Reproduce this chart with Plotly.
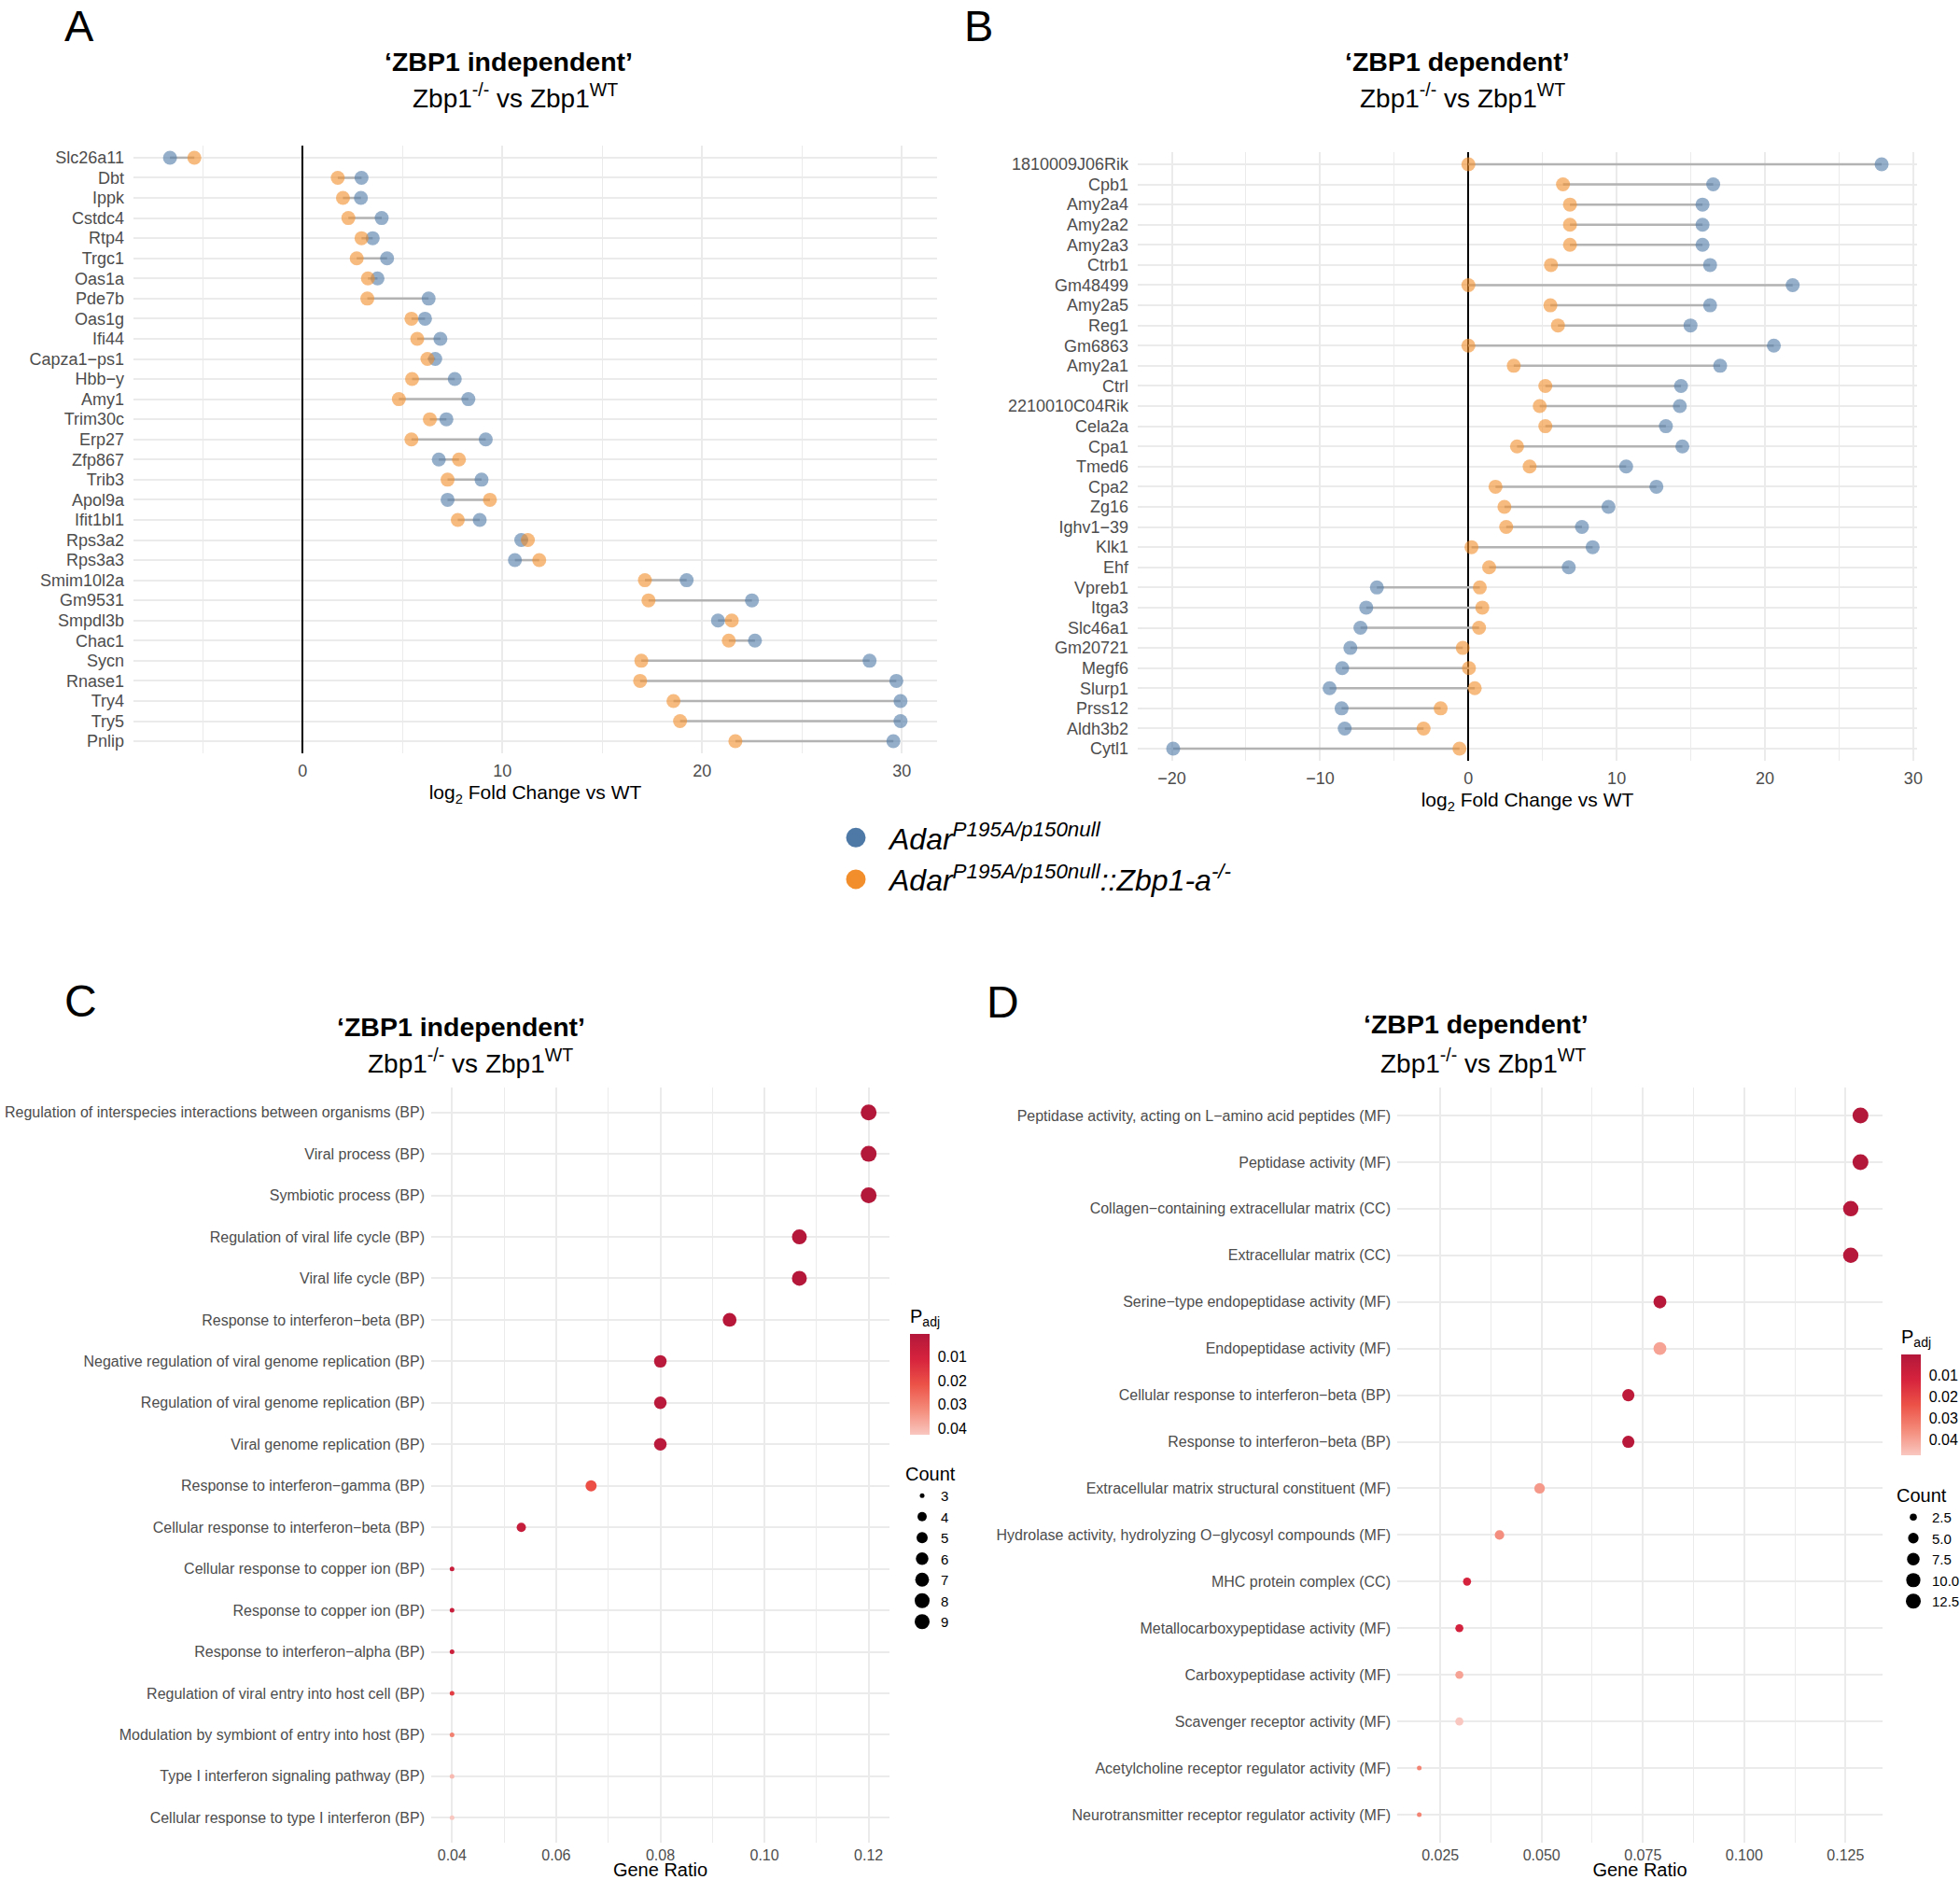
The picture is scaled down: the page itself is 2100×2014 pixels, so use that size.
import math
import plotly.graph_objects as go

W, H = 2100, 2014
FONT = "Liberation Sans, Arial, Helvetica, sans-serif"
GRID = "#EBEBEB"
GREY30 = "#4D4D4D"
BLUE = "#4E79A7"
ORANGE = "#F28E2B"
SEG = "#B3B3B3"

# ---------------- Panel A: 'ZBP1 independent' genes ----------------
genes_A = ["Slc26a11", "Dbt", "Ippk", "Cstdc4", "Rtp4", "Trgc1", "Oas1a", "Pde7b",
           "Oas1g", "Ifi44", "Capza1\u2212ps1", "Hbb\u2212y", "Amy1", "Trim30c", "Erp27",
           "Zfp867", "Trib3", "Apol9a", "Ifit1bl1", "Rps3a2", "Rps3a3", "Smim10l2a",
           "Gm9531", "Smpdl3b", "Chac1", "Sycn", "Rnase1", "Try4", "Try5", "Pnlip"]
adar_A = [-6.64, 2.95, 2.92, 3.96, 3.51, 4.23, 3.75, 6.31, 6.13, 6.90, 6.64, 7.62,
          8.30, 7.20, 9.17, 6.82, 8.96, 7.26, 8.87, 10.95, 10.63, 19.23, 22.50, 20.80,
          22.65, 28.39, 29.73, 29.94, 29.94, 29.58]
adar_zbp1_A = [-5.42, 1.76, 2.02, 2.29, 2.95, 2.71, 3.27, 3.24, 5.45, 5.74, 6.25, 5.48,
               4.82, 6.37, 5.45, 7.83, 7.26, 9.38, 7.77, 11.28, 11.85, 17.14, 17.32,
               21.49, 21.34, 16.96, 16.90, 18.57, 18.90, 21.67]

# ---------------- Panel B: 'ZBP1 dependent' genes ----------------
genes_B = ["1810009J06Rik", "Cpb1", "Amy2a4", "Amy2a2", "Amy2a3", "Ctrb1", "Gm48499",
           "Amy2a5", "Reg1", "Gm6863", "Amy2a1", "Ctrl", "2210010C04Rik", "Cela2a", "Cpa1",
           "Tmed6", "Cpa2", "Zg16", "Ighv1\u221239", "Klk1", "Ehf", "Vpreb1", "Itga3",
           "Slc46a1", "Gm20721", "Megf6", "Slurp1", "Prss12", "Aldh3b2", "Cytl1"]
adar_B = [27.87, 16.51, 15.79, 15.79, 15.79, 16.30, 21.87, 16.30, 14.98, 20.60, 16.98,
          14.34, 14.26, 13.32, 14.43, 10.64, 12.68, 9.45, 7.66, 8.38, 6.77, -6.17, -6.89,
          -7.28, -7.96, -8.51, -9.36, -8.55, -8.34, -19.91]
adar_zbp1_B = [0.0, 6.38, 6.85, 6.85, 6.85, 5.57, 0.0, 5.53, 6.04, 0.0, 3.06, 5.19, 4.81,
               5.19, 3.28, 4.13, 1.83, 2.43, 2.55, 0.21, 1.40, 0.77, 0.94, 0.72, -0.38,
               0.04, 0.43, -1.87, -3.02, -0.60]

# ---------------- Panel C: enrichment, 'ZBP1 independent' ----------------
terms_C = ["Regulation of interspecies interactions between organisms (BP)",
           "Viral process (BP)", "Symbiotic process (BP)",
           "Regulation of viral life cycle (BP)", "Viral life cycle (BP)",
           "Response to interferon\u2212beta (BP)",
           "Negative regulation of viral genome replication (BP)",
           "Regulation of viral genome replication (BP)", "Viral genome replication (BP)",
           "Response to interferon\u2212gamma (BP)",
           "Cellular response to interferon\u2212beta (BP)",
           "Cellular response to copper ion (BP)", "Response to copper ion (BP)",
           "Response to interferon\u2212alpha (BP)",
           "Regulation of viral entry into host cell (BP)",
           "Modulation by symbiont of entry into host (BP)",
           "Type I interferon signaling pathway (BP)",
           "Cellular response to type I interferon (BP)"]
ratio_C = [0.12, 0.12, 0.12, 0.1067, 0.1067, 0.0933, 0.08, 0.08, 0.08, 0.0667, 0.0533,
           0.04, 0.04, 0.04, 0.04, 0.04, 0.04, 0.04]
count_C = [9, 9, 9, 8, 8, 7, 6, 6, 6, 5, 4, 3, 3, 3, 3, 3, 3, 3]
padj_C = [0.0008, 0.0008, 0.0008, 0.0012, 0.0012, 0.002, 0.003, 0.003, 0.003, 0.021,
          0.006, 0.007, 0.007, 0.008, 0.017, 0.030, 0.040, 0.0424]
count_breaks_C = [3, 4, 5, 6, 7, 8, 9]

# ---------------- Panel D: enrichment, 'ZBP1 dependent' ----------------
terms_D = ["Peptidase activity, acting on L\u2212amino acid peptides (MF)",
           "Peptidase activity (MF)", "Collagen\u2212containing extracellular matrix (CC)",
           "Extracellular matrix (CC)", "Serine\u2212type endopeptidase activity (MF)",
           "Endopeptidase activity (MF)", "Cellular response to interferon\u2212beta (BP)",
           "Response to interferon\u2212beta (BP)",
           "Extracellular matrix structural constituent (MF)",
           "Hydrolase activity, hydrolyzing O\u2212glycosyl compounds (MF)",
           "MHC protein complex (CC)", "Metallocarboxypeptidase activity (MF)",
           "Carboxypeptidase activity (MF)", "Scavenger receptor activity (MF)",
           "Acetylcholine receptor regulator activity (MF)",
           "Neurotransmitter receptor regulator activity (MF)"]
ratio_D = [0.1287, 0.1287, 0.1263, 0.1263, 0.0792, 0.0792, 0.0714, 0.0714, 0.0495,
           0.0396, 0.0316, 0.0297, 0.0297, 0.0297, 0.0198, 0.0198]
count_D = [13, 13, 12, 12, 8, 8, 7, 7, 5, 4, 3, 3, 3, 3, 2, 2]
padj_D = [0.0005, 0.0005, 0.001, 0.001, 0.002, 0.040, 0.004, 0.002, 0.038, 0.036,
          0.012, 0.011, 0.040, 0.047, 0.034, 0.034]
count_breaks_D = [2.5, 5.0, 7.5, 10.0, 12.5]
count_labels_D = ["2.5", "5.0", "7.5", "10.0", "12.5"]
padj_ticks = [0.01, 0.02, 0.03, 0.04]
padj_ticklabels = ["0.01", "0.02", "0.03", "0.04"]

# colour scale: light (large p) -> dark red (small p); applied to -padj so that the
# colourbar reads 0.01 at the top and 0.04 at the bottom, as in the reference
PADJ_SCALE = [[0.0, "#F9C7C0"], [0.25, "#F48B7A"], [0.5, "#EC5247"],
              [0.75, "#D6233D"], [1.0, "#B3173A"]]


def fx(p):
    return p / W


def fy(p):
    return 1 - p / H


def expand(values, f=0.05):
    lo, hi = min(values), max(values)
    d = (hi - lo) * f
    return [lo - d, hi + d]


def dot_size(c, lo, hi):
    return 5 + 12 * math.sqrt(max(c - lo, 0) / (hi - lo))


fig = go.Figure()


def lollipop(genes, blue, orange, xa, ya):
    sx, sy = [], []
    for g, b, o in zip(genes, blue, orange):
        sx += [b, o, None]
        sy += [g, g, None]
    fig.add_trace(go.Scatter(x=sx, y=sy, mode="lines", xaxis=xa, yaxis=ya,
                             line=dict(color=SEG, width=2.5), hoverinfo="skip",
                             showlegend=False))
    fig.add_trace(go.Scatter(x=blue, y=genes, mode="markers", xaxis=xa, yaxis=ya,
                             marker=dict(size=15, color=BLUE, opacity=0.6),
                             showlegend=False, name="Adar P195A/p150null"))
    fig.add_trace(go.Scatter(x=orange, y=genes, mode="markers", xaxis=xa, yaxis=ya,
                             marker=dict(size=15, color=ORANGE, opacity=0.6),
                             showlegend=False, name="Adar P195A/p150null::Zbp1-a-/-"))


lollipop(genes_A, adar_A, adar_zbp1_A, "x", "y")
lollipop(genes_B, adar_B, adar_zbp1_B, "x2", "y2")


def dotplot(terms, ratio, count, padj, xa, ya, cb_x, cb_top, cb_len):
    lo, hi = min(count), max(count)
    fig.add_trace(go.Scatter(
        x=ratio, y=terms, mode="markers", xaxis=xa, yaxis=ya, showlegend=False,
        customdata=padj,
        marker=dict(size=[dot_size(c, lo, hi) for c in count], opacity=1,
                    color=[-p for p in padj],
                    colorscale=PADJ_SCALE, cmin=-max(padj), cmax=-min(padj),
                    line=dict(width=0),
                    colorbar=dict(
                        x=fx(cb_x), xanchor="left", xpad=0,
                        y=fy(cb_top), yanchor="top", ypad=0,
                        len=cb_len, lenmode="pixels", thickness=21,
                        thicknessmode="pixels", outlinewidth=0,
                        tickvals=[-t for t in padj_ticks], ticktext=padj_ticklabels,
                        ticks="outside", ticklen=6, tickcolor="rgba(255,255,255,0)",
                        tickfont=dict(size=16, color="black", family=FONT),
                        title=dict(text="P<sub>adj</sub>", side="top",
                                   font=dict(size=20, color="black", family=FONT)))),
        hovertemplate="%{y}<br>GeneRatio %{x}<br>p.adj %{customdata}<extra></extra>"))


dotplot(terms_C, ratio_C, count_C, padj_C, "x3", "y3", 975, 1399, 138)
dotplot(terms_D, ratio_D, count_D, padj_D, "x4", "y4", 2037, 1421, 138)

# genotype legend (legend)
fig.add_trace(go.Scatter(x=[None], y=[None], mode="markers", xaxis="x", yaxis="y",
                         marker=dict(size=16, color=BLUE, line=dict(width=5, color=BLUE)),
                         name="<i>Adar<sup>P195A/p150null</sup></i>", legend="legend",
                         legendgroup="g1"))
fig.add_trace(go.Scatter(x=[None], y=[None], mode="markers", xaxis="x", yaxis="y",
                         marker=dict(size=16, color=ORANGE, line=dict(width=5, color=ORANGE)),
                         name="<i>Adar<sup>P195A/p150null</sup>::Zbp1-a<sup>-/-</sup></i>",
                         legend="legend", legendgroup="g2"))

# count legends
for b in count_breaks_C:
    fig.add_trace(go.Scatter(x=[None], y=[None], mode="markers", xaxis="x3", yaxis="y3",
                             marker=dict(size=dot_size(b, min(count_C), max(count_C)),
                                         color="black"),
                             name=f"{b:g}", legend="legend2"))
for b, lab in zip(count_breaks_D, count_labels_D):
    fig.add_trace(go.Scatter(x=[None], y=[None], mode="markers", xaxis="x4", yaxis="y4",
                             marker=dict(size=dot_size(b, min(count_D), max(count_D)),
                                         color="black"),
                             name=lab, legend="legend3"))


def xaxis_cfg(anchor, dom, rng, dtick, minor_dtick, tick0, fmt, title, zero, tsize,
              title_size, lab_off, title_off):
    return dict(anchor=anchor, domain=[fx(dom[0]), fx(dom[1])], range=rng,
                tickmode="linear", dtick=dtick, tick0=tick0, tickformat=fmt,
                showgrid=True, gridcolor=GRID, gridwidth=1.6,
                minor=dict(dtick=minor_dtick, tick0=tick0, showgrid=True,
                           gridcolor=GRID, gridwidth=0.9),
                zeroline=zero, zerolinecolor="black", zerolinewidth=2,
                showline=False, ticks="", ticklabelstandoff=lab_off, automargin=False,
                tickfont=dict(size=tsize, color=GREY30, family=FONT),
                title=dict(text=title, standoff=title_off,
                           font=dict(size=title_size, color="black", family=FONT)))


def yaxis_cfg(anchor, dom, cats, tsize, standoff):
    n = len(cats)
    return dict(anchor=anchor, domain=[fy(dom[1]), fy(dom[0])], type="category",
                categoryorder="array", categoryarray=cats,
                tickmode="array", tickvals=cats, ticktext=cats,
                range=[n - 1 + 0.6, -0.6], showgrid=True, gridcolor=GRID,
                gridwidth=1.6, zeroline=False, showline=False, ticks="",
                ticklabelstandoff=standoff, automargin=False,
                tickfont=dict(size=tsize, color=GREY30, family=FONT))


layout = dict(
    width=W, height=H, margin=dict(l=0, r=0, t=0, b=0, autoexpand=False),
    paper_bgcolor="white", plot_bgcolor="white",
    font=dict(family=FONT, color="black"),
    xaxis=xaxis_cfg("y", (143, 1004), expand(adar_A + adar_zbp1_A), 10, 5, 0, "d",
                    "log<sub>2</sub> Fold Change vs WT", True, 18, 21, 6, 6),
    yaxis=yaxis_cfg("x", (156, 807), genes_A, 18, 9),
    xaxis2=xaxis_cfg("y2", (1219, 2054), expand(adar_B + adar_zbp1_B), 10, 5, 0, "d",
                     "log<sub>2</sub> Fold Change vs WT", True, 18, 21, 6, 6),
    yaxis2=yaxis_cfg("x2", (163, 815), genes_B, 18, 9),
    xaxis3=xaxis_cfg("y3", (462, 953), expand(ratio_C), 0.02, 0.01, 0.04, ".2f",
                     "Gene Ratio", False, 16, 20, 2, 0),
    yaxis3=yaxis_cfg("x3", (1165, 1974), terms_C, 16, 6),
    xaxis4=xaxis_cfg("y4", (1497, 2017), expand(ratio_D), 0.025, 0.0125, 0.025, ".3f",
                     "Gene Ratio", False, 16, 20, 2, 0),
    yaxis4=yaxis_cfg("x4", (1165, 1974), terms_D, 16, 6),
    legend=dict(x=fx(881), y=fy(870), xanchor="left", yanchor="top",
                font=dict(size=32, family=FONT, color="black"), itemwidth=62,
                tracegroupgap=4,
                bgcolor="rgba(0,0,0,0)", itemsizing="trace", traceorder="normal"),
    legend2=dict(x=fx(968), y=fy(1560), xanchor="left", yanchor="top",
                 title=dict(text="Count", font=dict(size=20, family=FONT)),
                 font=dict(size=15, family=FONT, color="black"),
                 bgcolor="rgba(0,0,0,0)", itemsizing="trace", traceorder="normal"),
    legend3=dict(x=fx(2030), y=fy(1583), xanchor="left", yanchor="top",
                 title=dict(text="Count", font=dict(size=20, family=FONT)),
                 font=dict(size=15, family=FONT, color="black"),
                 bgcolor="rgba(0,0,0,0)", itemsizing="trace", traceorder="normal"),
)
fig.update_layout(**layout)

# Text annotations
ann = []
# panel letters A and B sit at the very top edge: anchor their box to the top
for letter, x in [("A", 85), ("B", 1048)]:
    ann.append(dict(text=letter, x=fx(x), y=1, xref="paper", yref="paper",
                    xanchor="center", yanchor="top", showarrow=False, borderpad=0,
                    font=dict(size=47, family=FONT, color="black")))
for letter, x, y in [("C", 86, 1072), ("D", 1074, 1073)]:
    ann.append(dict(text=letter, x=fx(x), y=fy(y), xref="paper", yref="paper",
                    xanchor="center", yanchor="middle", showarrow=False,
                    font=dict(size=48, family=FONT, color="black")))
titles = [("<b>\u2018ZBP1 independent\u2019</b>", 545, 66),
          ("<b>\u2018ZBP1 dependent\u2019</b>", 1561, 66),
          ("<b>\u2018ZBP1 independent\u2019</b>", 494, 1100),
          ("<b>\u2018ZBP1 dependent\u2019</b>", 1581, 1097)]
subtitles = [(552, 103), (1567, 103), (504, 1137), (1589, 1137)]
for (t, x, y), (sx, sy) in zip(titles, subtitles):
    ann.append(dict(text=t, x=fx(x), y=fy(y), xref="paper", yref="paper",
                    xanchor="center", yanchor="middle", showarrow=False,
                    font=dict(size=28.5, family=FONT, color="black")))
    ann.append(dict(text="Zbp1<sup>-/-</sup> vs Zbp1<sup>WT</sup>", x=fx(sx), y=fy(sy),
                    xref="paper", yref="paper", xanchor="center", yanchor="middle",
                    showarrow=False, font=dict(size=28, family=FONT, color="black")))
fig.update_layout(annotations=ann)

fig.write_html("out.html", config={"displayModeBar": False},
               post_script="document.body.style.margin='0px';"
                           "document.body.style.padding='0px';")
